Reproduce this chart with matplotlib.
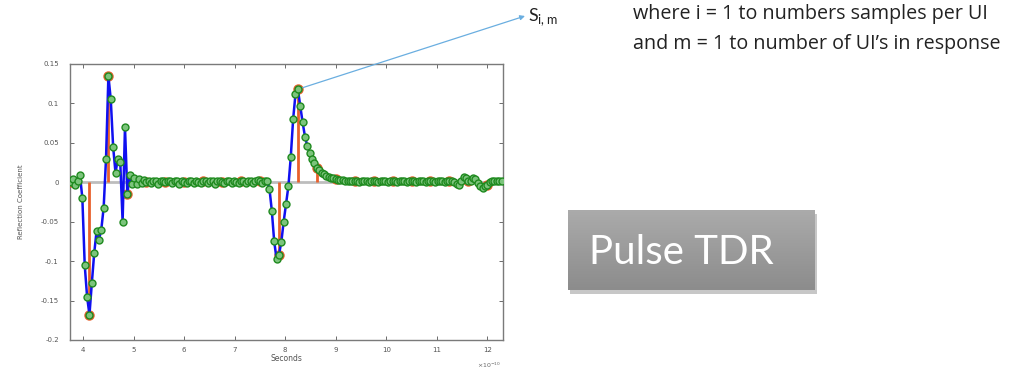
import numpy as np
import matplotlib
matplotlib.use("Agg")
import matplotlib.pyplot as plt
from matplotlib.patches import Rectangle

# ---- data (x in units of 1e-10 s) ----
t_start = 3.75
ui = 0.375
samples_per_ui = 8

reflection = [
    0.0, 0.004, -0.003, 0.001, 0.009, -0.02, -0.105, -0.145,
    -0.168, -0.128, -0.09, -0.062, -0.073, -0.06, -0.032, 0.03,
    0.135, 0.105, 0.045, 0.012, 0.03, 0.026, -0.05, 0.07,
    -0.015, 0.009, -0.002, 0.006, -0.002, 0.004, -0.001, 0.003,
    0.0, 0.002, -0.001, 0.001, 0.002, -0.002, 0.001, 0.002,
    0.0, 0.001, 0.002, -0.001, 0.001, 0.002, -0.002, 0.001,
    0.0, -0.001, 0.002, 0.001, -0.001, 0.002, 0.0, -0.001,
    0.001, 0.002, -0.001, 0.001, 0.002, -0.002, 0.001, 0.002,
    0.0, -0.001, 0.002, 0.001, -0.001, 0.002, 0.0, -0.001,
    0.001, 0.002, -0.001, 0.001, 0.002, -0.001, 0.001, 0.003,
    0.001, -0.001, 0.002, 0.001, -0.008, -0.036, -0.075, -0.097,
    -0.092, -0.076, -0.05, -0.027, -0.005, 0.032, 0.08, 0.112,
    0.118, 0.097, 0.076, 0.058, 0.046, 0.037, 0.03, 0.024,
    0.018, 0.015, 0.012, 0.010, 0.008, 0.007, 0.006, 0.005,
    0.004, 0.0035, 0.003, 0.0025, 0.002, 0.002, 0.0015, 0.001,
    0.0015, 0.001, 0.0005, 0.001, 0.0015, 0.001, 0.0005, 0.001,
    0.0015, 0.001, 0.0005, 0.001, 0.0015, 0.001, 0.0005, 0.001,
    0.0015, 0.001, 0.0005, 0.001, 0.0015, 0.001, 0.0005, 0.001,
    0.0015, 0.001, 0.0005, 0.001, 0.0015, 0.001, 0.0005, 0.001,
    0.0015, 0.001, 0.0005, 0.001, 0.0015, 0.001, 0.0005, 0.001,
    0.0015, 0.001, 0.0, -0.002, -0.003, 0.002, 0.007, 0.006,
    0.002, 0.002, 0.005, 0.004, -0.001, -0.005, -0.007, -0.005,
    -0.003, 0.0, 0.002, 0.002, 0.002, 0.002, 0.002,
]

ytick_vals = [-0.2, -0.15, -0.1, -0.05, 0, 0.05, 0.1, 0.15]
ytick_labels = ["-0.2", "-0.15", "-0.1", "-0.05", "0", "0.05", "0.1", "0.15"]
xtick_vals = [4, 5, 6, 7, 8, 9, 10, 11, 12]
xtick_labels = ["4", "5", "6", "7", "8", "9", "10", "11", "12"]

step = ui / samples_per_ui
t = t_start + step * np.arange(len(reflection))
y = np.array(reflection)
t_ui = t[::samples_per_ui]
y_ui = y[::samples_per_ui]

# ---- figure ----
fig = plt.figure(figsize=(10.31, 3.69), dpi=100)
W, H = 1031, 369
ax = fig.add_axes([70 / W, 1 - 340 / H, (503 - 70) / W, (340 - 64) / H])

ml, sl, bl = ax.stem(t_ui, y_ui, basefmt=" ")
plt.setp(sl, color="#e8602c", linewidth=2.0)
plt.setp(ml, color="#e8602c", markersize=6.5, markerfacecolor="#f07040",
         markeredgecolor="#e8602c", zorder=3)
ax.axhline(0, color="#bdbdbd", linewidth=2.0, zorder=1)
ax.plot(t, y, color="#1010f0", linewidth=1.8, marker="o", markersize=5,
        markerfacecolor="#7cc47c", markeredgecolor="#1f8a1f",
        markeredgewidth=1.0, zorder=4)

ax.set_xlim(3.74, 12.31)
ax.set_ylim(-0.2, 0.15)
ax.set_yticks(ytick_vals)
ax.set_yticklabels(ytick_labels)
ax.set_xticks(xtick_vals)
ax.set_xticklabels(xtick_labels)
ax.tick_params(direction="in", length=3, width=0.6, labelsize=5,
               colors="#555555", top=True, right=True)
ax.tick_params(axis="y", pad=8)
ax.tick_params(axis="x", pad=5)
for s in ax.spines.values():
    s.set_color("#7a7a7a")
    s.set_linewidth(1.0)
ax.set_xlabel("Seconds", fontsize=5.5, color="#555555", labelpad=1)
ax.set_ylabel("Reflection Coefficient", fontsize=5, color="#555555", labelpad=12)
ax.text(0.995, -0.075, r"$\times10^{-10}$", transform=ax.transAxes,
        fontsize=4.5, color="#666666", ha="right", va="top")

# arrow from the peak to the label
ax.annotate("", xy=(525 / W, 1 - 16 / H), xycoords="figure fraction",
            xytext=(t[96], y[96]), textcoords="data",
            arrowprops=dict(arrowstyle="-|>", color="#6aaee0", lw=0.9,
                            mutation_scale=7, shrinkA=0, shrinkB=0),
            annotation_clip=False)

fig.text(528 / W, 1 - 17 / H, r"S$_{\mathregular{i,m}}$", fontsize=13,
         family="Lato", color="#222222", va="center", ha="left")
fig.text(633 / W, 1 - 14 / H, "where i = 1 to numbers samples per UI",
         fontsize=14.2, family="Open Sans", color="#222222", va="center", ha="left")
fig.text(633 / W, 1 - 44 / H, "and m = 1 to number of UI\u2019s in response",
         fontsize=14.2, family="Open Sans", color="#222222", va="center", ha="left")

# "Pulse TDR" box with shadow and gradient
bx0, by0, bx1, by1 = 568, 210, 815, 290
fig.patches.append(Rectangle(((bx0 + 2) / W, 1 - (by1 + 4) / H),
                             (bx1 - bx0) / W, (by1 - by0) / H,
                             transform=fig.transFigure, facecolor="#606060",
                             alpha=0.35, edgecolor="none", zorder=-1))
bax = fig.add_axes([bx0 / W, 1 - by1 / H, (bx1 - bx0) / W, (by1 - by0) / H])
grad = np.linspace(0, 1, 100).reshape(-1, 1)
bax.imshow(grad, aspect="auto", cmap=matplotlib.colors.LinearSegmentedColormap.from_list(
    "g", ["#ababab", "#8c8c8c"]), extent=[0, 1, 0, 1], origin="upper")
bax.set_axis_off()
bax.text(0.46, 0.47, "Pulse TDR", transform=bax.transAxes, fontsize=29,
         family="Lato", color="white", ha="center", va="center")

fig.savefig("out.png", dpi=100)
